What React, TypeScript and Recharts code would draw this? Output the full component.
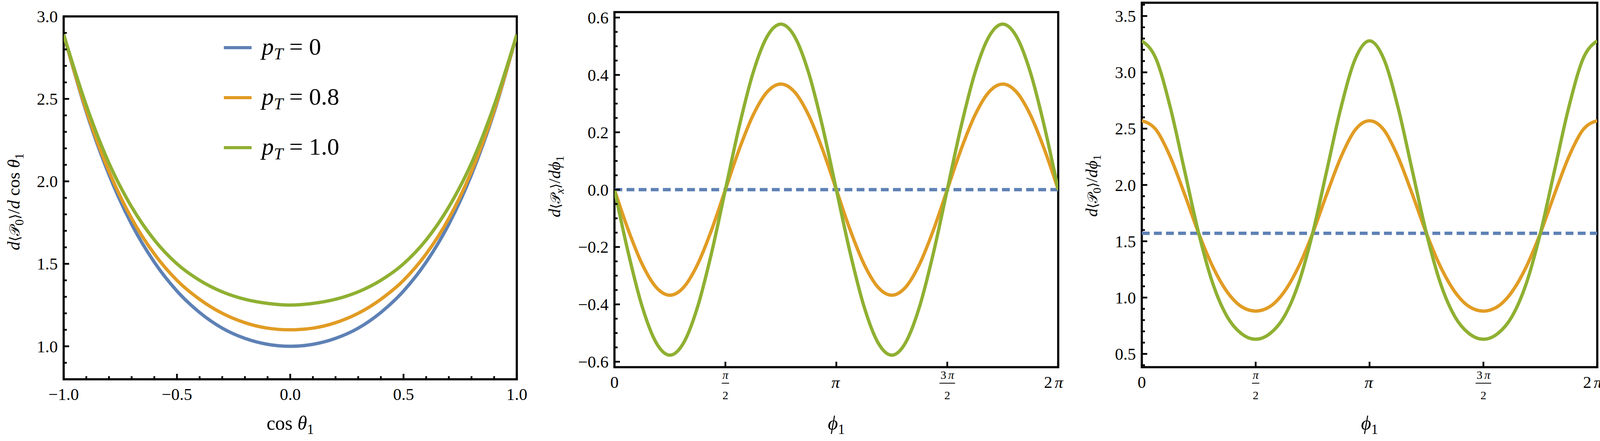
import React from 'react';
import { LineChart, Line, XAxis, YAxis, ReferenceArea, Legend } from 'recharts';

const COLORS = ['#5E81B5', '#E19C24', '#8FB032'];
const PT_LABELS = ['0', '0.8', '1.0'];
const SERIF = "'Liberation Serif', 'Times New Roman', 'DejaVu Serif', serif";
const MATH = "'Liberation Serif', 'DejaVu Serif', 'DejaVu Sans', serif";

// ---------- Panel 1: d<P0>/d cos(theta1) ----------
const cosTheta = [-1.0, -0.9, -0.8, -0.7, -0.6, -0.5, -0.4, -0.3, -0.2, -0.1, 0.0, 0.1, 0.2, 0.3, 0.4, 0.5, 0.6, 0.7, 0.8, 0.9, 1.0];
const thetaPt0 = [2.89, 2.42, 2.04, 1.74, 1.51, 1.335, 1.205, 1.11, 1.048, 1.012, 1.0, 1.012, 1.048, 1.11, 1.205, 1.335, 1.51, 1.74, 2.04, 2.42, 2.89];
const thetaPt08 = [2.89, 2.43, 2.06, 1.775, 1.56, 1.40, 1.285, 1.20, 1.143, 1.11, 1.10, 1.11, 1.143, 1.20, 1.285, 1.40, 1.56, 1.775, 2.06, 2.43, 2.89];
const thetaPt10 = [2.89, 2.46, 2.11, 1.845, 1.645, 1.50, 1.40, 1.33, 1.285, 1.26, 1.25, 1.26, 1.285, 1.33, 1.40, 1.50, 1.645, 1.845, 2.11, 2.46, 2.89];

const p1XMajor = [-1.0, -0.5, 0.0, 0.5, 1.0];
const p1XMinor = [-0.9, -0.8, -0.7, -0.6, -0.4, -0.3, -0.2, -0.1, 0.1, 0.2, 0.3, 0.4, 0.6, 0.7, 0.8, 0.9];
const p1YMajor = [1.0, 1.5, 2.0, 2.5, 3.0];
const p1YMinor = [0.9, 1.1, 1.2, 1.3, 1.4, 1.6, 1.7, 1.8, 1.9, 2.1, 2.2, 2.3, 2.4, 2.6, 2.7, 2.8, 2.9];

// ---------- Panels 2 & 3: phi1 in units of pi ----------
const phiOverPi = [0, 0.0625, 0.125, 0.1875, 0.25, 0.3125, 0.375, 0.4375, 0.5, 0.5625, 0.625, 0.6875, 0.75, 0.8125, 0.875, 0.9375, 1, 1.0625, 1.125, 1.1875, 1.25, 1.3125, 1.375, 1.4375, 1.5, 1.5625, 1.625, 1.6875, 1.75, 1.8125, 1.875, 1.9375, 2];

const pxPt0 = [0, 0, 0, 0, 0, 0, 0, 0, 0, 0, 0, 0, 0, 0, 0, 0, 0, 0, 0, 0, 0, 0, 0, 0, 0, 0, 0, 0, 0, 0, 0, 0, 0];
const pxPt08 = [0, -0.141, -0.260, -0.340, -0.368, -0.340, -0.260, -0.141, 0, 0.141, 0.260, 0.340, 0.368, 0.340, 0.260, 0.141, 0, -0.141, -0.260, -0.340, -0.368, -0.340, -0.260, -0.141, 0, 0.141, 0.260, 0.340, 0.368, 0.340, 0.260, 0.141, 0];
const pxPt10 = [0, -0.221, -0.408, -0.533, -0.577, -0.533, -0.408, -0.221, 0, 0.221, 0.408, 0.533, 0.577, 0.533, 0.408, 0.221, 0, -0.221, -0.408, -0.533, -0.577, -0.533, -0.408, -0.221, 0, 0.221, 0.408, 0.533, 0.577, 0.533, 0.408, 0.221, 0];

const p0Pt0 = [1.571, 1.571, 1.571, 1.571, 1.571, 1.571, 1.571, 1.571, 1.571, 1.571, 1.571, 1.571, 1.571, 1.571, 1.571, 1.571, 1.571, 1.571, 1.571, 1.571, 1.571, 1.571, 1.571, 1.571, 1.571, 1.571, 1.571, 1.571, 1.571, 1.571, 1.571, 1.571, 1.571];
const p0Pt08 = [2.57, 2.49, 2.25, 1.92, 1.57, 1.27, 1.05, 0.92, 0.88, 0.92, 1.05, 1.27, 1.57, 1.92, 2.25, 2.49, 2.57, 2.49, 2.25, 1.92, 1.57, 1.27, 1.05, 0.92, 0.88, 0.92, 1.05, 1.27, 1.57, 1.92, 2.25, 2.49, 2.57];
const p0Pt10 = [3.28, 3.12, 2.69, 2.13, 1.57, 1.12, 0.83, 0.68, 0.63, 0.68, 0.83, 1.12, 1.57, 2.13, 2.69, 3.12, 3.28, 3.12, 2.69, 2.13, 1.57, 1.12, 0.83, 0.68, 0.63, 0.68, 0.83, 1.12, 1.57, 2.13, 2.69, 3.12, 3.28];

const phiTicks = [0, 0.5, 1, 1.5, 2];
const phiTickCoef = ['0', '', '', '3', '2'];
const phiTickHasPi = [false, true, true, true, true];
const phiTickDen = ['', '2', '', '2', ''];

const p2YMajor = [-0.6, -0.4, -0.2, 0.0, 0.2, 0.4, 0.6];
const p2YMinor = [-0.55, -0.5, -0.45, -0.35, -0.3, -0.25, -0.15, -0.1, -0.05, 0.05, 0.1, 0.15, 0.25, 0.3, 0.35, 0.45, 0.5, 0.55];
const p3YMajor = [0.5, 1.0, 1.5, 2.0, 2.5, 3.0, 3.5];
const p3YMinor = [0.4, 0.6, 0.7, 0.8, 0.9, 1.1, 1.2, 1.3, 1.4, 1.6, 1.7, 1.8, 1.9, 2.1, 2.2, 2.3, 2.4, 2.6, 2.7, 2.8, 2.9, 3.1, 3.2, 3.3, 3.4, 3.6];

// ---------- tables ----------
const thetaRows = cosTheta.map((x, i) => ({ x, a: thetaPt0[i], b: thetaPt08[i], c: thetaPt10[i] }));
const pxRows = phiOverPi.map((x, i) => ({ x, a: pxPt0[i], b: pxPt08[i], c: pxPt10[i] }));
const p0Rows = phiOverPi.map((x, i) => ({ x, a: p0Pt0[i], b: p0Pt08[i], c: p0Pt10[i] }));

// ---------- helpers ----------
const LINE_W = 8.5;
const FRAME_W = 5.5;
const TICK_W = 4.5;
const near = (a: number, b: number) => Math.abs(a - b) < 1e-6;
const fmt = (v: number) => (v < -1e-9 ? '\u2212' : '') + Math.abs(v).toFixed(1);

type Part = { t: string; i?: boolean; sub?: boolean; s?: number };

function MathText({ x, y, parts, size, anchor, rotate }: { x: number; y: number; parts: Part[]; size: number; anchor: string; rotate?: boolean }) {
  let prevSub = false;
  const shift = size * 0.22;
  const spans = parts.map((p, k) => {
    let dy = 0;
    if (p.sub && !prevSub) dy = shift;
    if (!p.sub && prevSub) dy = -shift;
    prevSub = !!p.sub;
    const fs = (p.sub ? size * 0.7 : size) * (p.s || 1);
    return (
      <tspan key={k} dy={dy !== 0 ? dy : undefined} fontStyle={p.i ? 'italic' : 'normal'} fontSize={fs}>
        {p.t}
      </tspan>
    );
  });
  return (
    <text x={x} y={y} textAnchor={anchor as any} fontFamily={MATH} fill="#000" transform={rotate ? `rotate(-90 ${x} ${y})` : undefined}>
      {spans}
    </text>
  );
}

const p1YTitle: Part[] = [{ t: 'd', i: true }, { t: '⟨', s: 0.8 }, { t: '𝒫', s: 0.82 }, { t: '0', sub: true }, { t: '⟩', s: 0.8 }, { t: '/' }, { t: 'd', i: true }, { t: '\u00A0cos\u00A0' }, { t: 'θ', i: true }, { t: '1', sub: true }];
const p1XTitle: Part[] = [{ t: 'cos\u00A0' }, { t: 'θ', i: true }, { t: '1', sub: true }];
const p2YTitle: Part[] = [{ t: 'd', i: true }, { t: '⟨', s: 0.8 }, { t: '𝒫', s: 0.82 }, { t: 'x', i: true, sub: true }, { t: '⟩', s: 0.8 }, { t: '/' }, { t: 'd', i: true }, { t: 'ϕ', i: true }, { t: '1', sub: true }];
const p3YTitle: Part[] = [{ t: 'd', i: true }, { t: '⟨', s: 0.8 }, { t: '𝒫', s: 0.82 }, { t: '0', sub: true }, { t: '⟩', s: 0.8 }, { t: '/' }, { t: 'd', i: true }, { t: 'ϕ', i: true }, { t: '1', sub: true }];
const phiXTitle: Part[] = [{ t: 'ϕ', i: true }, { t: '1', sub: true }];

function makeYTick(majors: number[]) {
  return (props: any) => {
    const { x, y, payload } = props;
    const v = payload.value;
    const major = majors.some((m) => near(m, v));
    return (
      <g>
        <line x1={x} x2={x + (major ? 14 : 8)} y1={y} y2={y} stroke="#000" strokeWidth={TICK_W} />
        {major && (
          <text x={x - 15} y={y} dy="0.35em" textAnchor="end" fontFamily={SERIF} fontSize={43} fill="#000">
            {fmt(v)}
          </text>
        )}
      </g>
    );
  };
}

function makeNumXTick(majors: number[]) {
  return (props: any) => {
    const { x, y, payload } = props;
    const v = payload.value;
    const major = majors.some((m) => near(m, v));
    return (
      <g>
        <line x1={x} x2={x} y1={y} y2={y - (major ? 14 : 8)} stroke="#000" strokeWidth={TICK_W} />
        {major && (
          <text x={x} y={y + 53} textAnchor="middle" fontFamily={SERIF} fontSize={43} fill="#000">
            {fmt(v)}
          </text>
        )}
      </g>
    );
  };
}

const phiXTick = (props: any) => {
  const { x, y, payload } = props;
  const idx = phiTicks.findIndex((t) => near(t, payload.value));
  if (idx < 0) return <g />;
  const coef = phiTickCoef[idx];
  const hasPi = phiTickHasPi[idx];
  const den = phiTickDen[idx];
  const tickMark = <line x1={x} x2={x} y1={y} y2={y - 14} stroke="#000" strokeWidth={TICK_W} />;
  if (den) {
    const barW = coef ? 40 : 19;
    return (
      <g>
        {tickMark}
        <text x={x} y={y + 30} textAnchor="middle" fontFamily={SERIF} fontSize={30} fill="#000">
          {coef ? <tspan>{coef}</tspan> : null}
          {hasPi ? <tspan fontStyle="italic" dx={coef ? 5 : 0}>π</tspan> : null}
        </text>
        <line x1={x - barW / 2} x2={x + barW / 2} y1={y + 41} y2={y + 41} stroke="#000" strokeWidth={2} />
        <text x={x} y={y + 82} textAnchor="middle" fontFamily={SERIF} fontSize={30} fill="#000">{den}</text>
      </g>
    );
  }
  const shiftX = coef && hasPi ? -12 : hasPi ? -2 : 0;
  return (
    <g>
      {tickMark}
      <text x={x + shiftX} y={y + 53} textAnchor="middle" fontFamily={SERIF} fontSize={43} fill="#000">
        {coef ? <tspan>{coef}</tspan> : null}
        {hasPi ? <tspan fontStyle="italic" dx={coef ? 6 : 0}>π</tspan> : null}
      </text>
    </g>
  );
};

const yTitle = (parts: Part[], offset: number, size: number, cyShift: number) => (props: any) => {
  const vb = props.viewBox || {};
  const cx = vb.x + vb.width - offset;
  const cy = vb.y + vb.height / 2 + cyShift;
  return <MathText x={cx} y={cy} parts={parts} size={size} anchor="middle" rotate />;
};

const xTitle = (parts: Part[], baseline: number) => (props: any) => {
  const vb = props.viewBox || {};
  return <MathText x={vb.x + vb.width / 2} y={baseline} parts={parts} size={50} anchor="middle" />;
};

const renderLegend = (props: any) => {
  const payload = props.payload || [];
  return (
    <svg width={420} height={340} style={{ display: 'block', overflow: 'visible' }}>
      {payload.map((entry: any, i: number) => {
        const cy = 32 + i * 128;
        return (
          <g key={i}>
            <line x1={13} x2={84} y1={cy} y2={cy} stroke={entry.color} strokeWidth={8} />
            <text x={110} y={cy + 18} fontFamily={MATH} fontSize={62} fill="#000">
              <tspan fontStyle="italic">p</tspan>
              <tspan fontStyle="italic" fontSize={43} dy={12}>T</tspan>
              <tspan dy={-12}>{'\u00A0=\u00A0' + PT_LABELS[i]}</tspan>
            </text>
          </g>
        );
      })}
    </svg>
  );
};

function series(dashedFirst: boolean) {
  const keys = ['a', 'b', 'c'];
  return keys.map((k, i) => (
    <Line
      key={k}
      dataKey={k}
      name={`pT = ${PT_LABELS[i]}`}
      type="monotone"
      stroke={COLORS[i]}
      strokeWidth={LINE_W}
      strokeDasharray={dashedFirst && i === 0 ? '20 11' : undefined}
      dot={false}
      activeDot={false}
      isAnimationActive={false}
    />
  ));
}

const PANEL_W = 1372;
const PANEL_H = 1129;

export default function App() {
  return (
    <div style={{ position: 'absolute', left: 0, top: 0, width: 4116, height: 1129, background: '#fff', overflow: 'hidden' }}>
      <style>{`.recharts-surface{overflow:visible}`}</style>
      {/* Panel 1 */}
      <div style={{ position: 'absolute', left: 0, top: 0 }}>
        <LineChart width={PANEL_W} height={PANEL_H} data={thetaRows} margin={{ top: 42, right: 49, bottom: 58, left: 63 }}>
          <XAxis
            dataKey="x"
            type="number"
            domain={[-1, 1]}
            allowDataOverflow
            ticks={[...p1XMajor, ...p1XMinor]}
            interval={0}
            tickSize={0}
            tickMargin={0}
            axisLine={false}
            tickLine={false}
            tick={makeNumXTick(p1XMajor)}
            height={100}
            label={{ content: xTitle(p1XTitle, 1100) }}
          />
          <YAxis
            type="number"
            domain={[0.8, 3.0]}
            allowDataOverflow
            ticks={[...p1YMajor, ...p1YMinor]}
            interval={0}
            tickSize={0}
            tickMargin={0}
            axisLine={false}
            tickLine={false}
            tick={makeYTick(p1YMajor)}
            width={100}
            label={{ content: yTitle(p1YTitle, 113, 45, 10) }}
          />
          <ReferenceArea x1={-1} x2={1} y1={0.8} y2={3.0} fill="none" fillOpacity={0} stroke="#000" strokeWidth={FRAME_W} ifOverflow="visible" />
          {series(false)}
          <Legend content={renderLegend} layout="vertical" align="center" verticalAlign="middle" wrapperStyle={{ left: 560, top: 90, width: 420, height: 340 }} />
        </LineChart>
      </div>

      {/* Panel 2 */}
      <div style={{ position: 'absolute', left: PANEL_W, top: 0 }}>
        <LineChart width={PANEL_W} height={PANEL_H} data={pxRows} margin={{ top: 31, right: 35, bottom: 89, left: 101 }}>
          <XAxis
            dataKey="x"
            type="number"
            domain={[0, 2]}
            allowDataOverflow
            ticks={phiTicks}
            interval={0}
            tickSize={0}
            tickMargin={0}
            axisLine={false}
            tickLine={false}
            tick={phiXTick}
            height={100}
            label={{ content: xTitle(phiXTitle, 1100) }}
          />
          <YAxis
            type="number"
            domain={[-0.619, 0.619]}
            allowDataOverflow
            ticks={[...p2YMajor, ...p2YMinor]}
            interval={0}
            tickSize={0}
            tickMargin={0}
            axisLine={false}
            tickLine={false}
            tick={makeYTick(p2YMajor)}
            width={100}
            label={{ content: yTitle(p2YTitle, 139, 43, -8) }}
          />
          <ReferenceArea x1={0} x2={2} y1={-0.619} y2={0.619} fill="none" fillOpacity={0} stroke="#000" strokeWidth={FRAME_W} ifOverflow="visible" />
          {series(true)}
        </LineChart>
      </div>

      {/* Panel 3 */}
      <div style={{ position: 'absolute', left: PANEL_W * 2, top: 0 }}>
        <LineChart width={PANEL_W} height={PANEL_H} data={p0Rows} margin={{ top: 7, right: 27, bottom: 89, left: 79 }}>
          <XAxis
            dataKey="x"
            type="number"
            domain={[0, 2]}
            allowDataOverflow
            ticks={phiTicks}
            interval={0}
            tickSize={0}
            tickMargin={0}
            axisLine={false}
            tickLine={false}
            tick={phiXTick}
            height={100}
            label={{ content: xTitle(phiXTitle, 1100) }}
          />
          <YAxis
            type="number"
            domain={[0.382, 3.618]}
            allowDataOverflow
            ticks={[...p3YMajor, ...p3YMinor]}
            interval={0}
            tickSize={0}
            tickMargin={0}
            axisLine={false}
            tickLine={false}
            tick={makeYTick(p3YMajor)}
            width={100}
            label={{ content: yTitle(p3YTitle, 114, 43, 2) }}
          />
          <ReferenceArea x1={0} x2={2} y1={0.382} y2={3.618} fill="none" fillOpacity={0} stroke="#000" strokeWidth={FRAME_W} ifOverflow="visible" />
          {series(true)}
        </LineChart>
      </div>
    </div>
  );
}
